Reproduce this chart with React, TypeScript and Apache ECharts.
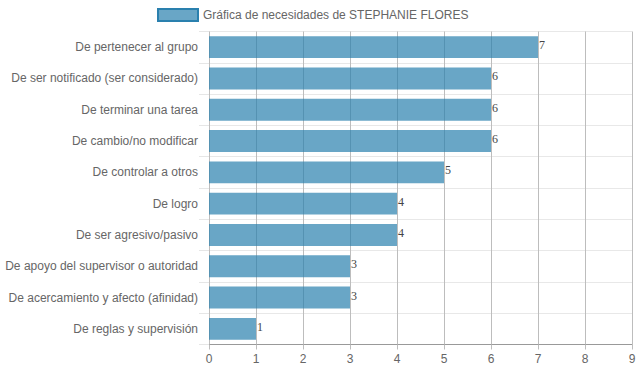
import React, { useEffect, useRef } from "react";
import * as echarts from "echarts";

const categories = [
  "De pertenecer al grupo",
  "De ser notificado (ser considerado)",
  "De terminar una tarea",
  "De cambio/no modificar",
  "De controlar a otros",
  "De logro",
  "De ser agresivo/pasivo",
  "De apoyo del supervisor o autoridad",
  "De acercamiento y afecto (afinidad)",
  "De reglas y supervisión",
];
const values = [7, 6, 6, 6, 5, 4, 4, 3, 3, 1];
const seriesName = "Gráfica de necesidades de STEPHANIE FLORES";

const FONT = "'Liberation Sans', Arial, Helvetica, sans-serif";

export default function App() {
  const ref = useRef<HTMLDivElement>(null);
  useEffect(() => {
    document.body.style.margin = "0";
    const chart = echarts.init(ref.current!, null, { renderer: "svg" });
    chart.setOption({
      animation: false,
      backgroundColor: "#fff",
      legend: {
        top: 3,
        left: 152,
        itemWidth: 40,
        itemHeight: 12,
        itemGap: 6,
        icon: "rect",
        textStyle: { color: "#666", fontSize: 12, fontFamily: FONT },
        itemStyle: { color: "rgba(42,128,174,0.7)", borderColor: "#2a80ae", borderWidth: 2 },
        data: [seriesName],
      },
      grid: { left: 209, right: 7, top: 31.5, bottom: 27.5, containLabel: false },
      xAxis: {
        type: "value",
        min: 0,
        max: 9,
        interval: 1,
        axisLine: { show: true, lineStyle: { color: "#999" } },
        axisTick: { show: true, length: 5, lineStyle: { color: "#bdbdbd" } },
        axisLabel: { color: "#666", fontSize: 12, fontFamily: FONT, margin: 8 },
        splitLine: { show: true, lineStyle: { color: "#bdbdbd", width: 1 } },
      },
      yAxis: {
        type: "category",
        data: categories,
        inverse: true,
        axisLine: { show: false },
        axisTick: { show: true, length: 10, lineStyle: { color: "#e6e6e6" } },
        axisLabel: { color: "#666", fontSize: 12, fontFamily: FONT, margin: 11 },
        splitLine: { show: true, lineStyle: { color: "#e8e8e8", width: 1 } },
      },
      series: [
        {
          name: seriesName,
          type: "bar",
          data: values,
          barCategoryGap: "30%",
          itemStyle: {
            color: "rgba(42,128,174,0.7)",
          },
          label: {
            show: true,
            position: ["100%", 3],
            align: "left",
            verticalAlign: "top",
            distance: 0,
            padding: [0, 0, 0, 1],
            color: "#444",
            fontSize: 12,
            fontFamily: "'Liberation Serif', 'Times New Roman', serif",
          },
        },
      ],
    });
    return () => chart.dispose();
  }, []);
  return <div ref={ref} style={{ width: 639, height: 372 }} />;
}
